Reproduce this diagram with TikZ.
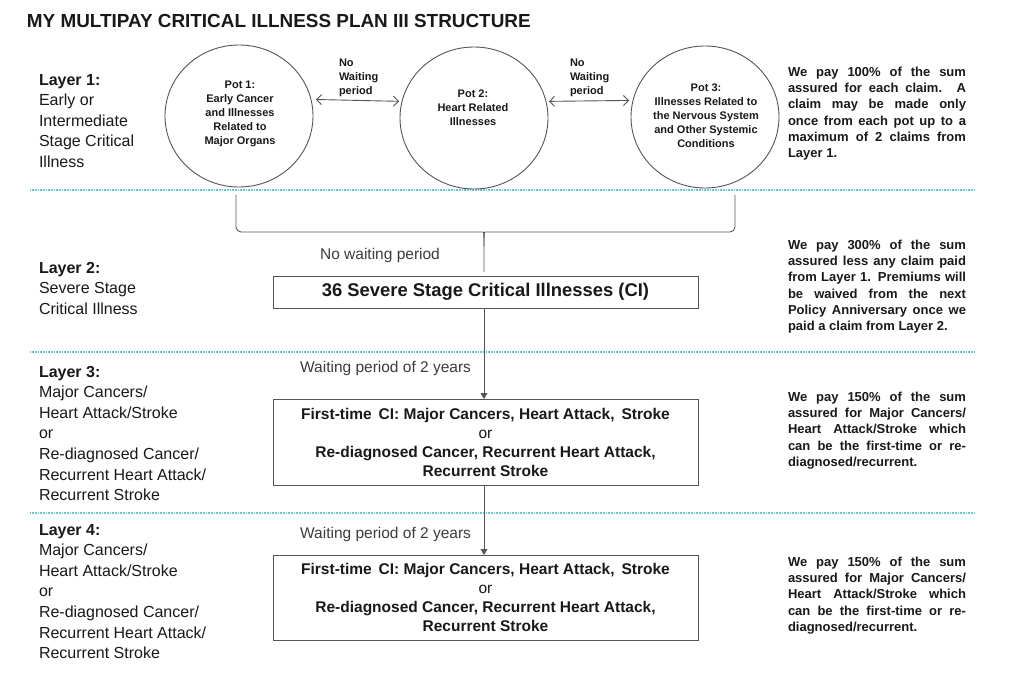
\documentclass[tikz,border=0pt]{standalone}
\usepackage{fontspec}
\setmainfont{Liberation Sans}
\usetikzlibrary{shapes.geometric,arrows.meta}
\definecolor{dotc}{RGB}{105,198,212}
\definecolor{linec}{RGB}{85,85,85}
\definecolor{txtc}{RGB}{25,25,25}
\definecolor{graytxt}{RGB}{60,60,60}
\newcommand{\jl}[1]{\makebox[178pt][s]{#1}}
\tikzset{
  x=1pt, y=-1pt,
  every node/.style={inner sep=0pt, outer sep=0pt, text=txtc},
  pot/.style={draw=linec, line width=0.9pt, ellipse, minimum width=148pt, minimum height=142pt},
  pottext/.style={align=center, font=\bfseries\fontsize{11}{14}\selectfont},
  nowait/.style={align=left, font=\bfseries\fontsize{11}{14}\selectfont, anchor=north west},
  layerlab/.style={align=left, anchor=north west, font=\fontsize{16}{20.6}\selectfont},
  righttext/.style={align=left, anchor=north west, font=\bfseries\fontsize{13}{16.2}\selectfont},
  cibox/.style={draw=linec, line width=0.9pt, minimum width=425pt, align=center},
  waitlab/.style={font=\fontsize{15.5}{18}\selectfont, text=graytxt},
  sep/.style={draw=dotc, line width=1.6pt, dash pattern=on 0.8pt off 0.8pt},
  conn/.style={draw=linec, line width=0.9pt},
  dbl/.style={conn, {Straight Barb[length=5pt,width=10pt]}-{Straight Barb[length=5pt,width=10pt]}},
  down/.style={conn, -{Triangle[length=6pt,width=7pt]}}
}
\begin{document}
\begin{tikzpicture}
\useasboundingbox (0,0) rectangle (1011,676);
\fill[white] (0,0) rectangle (1011,676);

% title
\node[anchor=west, font=\bfseries\fontsize{18.9}{22}\selectfont] (title) at (27,21) {MY MULTIPAY CRITICAL ILLNESS PLAN III STRUCTURE};

% separators
\draw[sep] (30,190) -- (975,190);
\draw[sep] (30,352) -- (975,352);
\draw[sep] (30,513) -- (975,513);

% layer labels
\node[layerlab] (l1) at (39,74) {\textbf{Layer 1:}\\Early or\\Intermediate\\Stage Critical\\Illness};
\node[layerlab] (l2) at (39,262) {\textbf{Layer 2:}\\Severe Stage\\Critical Illness};
\node[layerlab] (l3) at (39,366) {\textbf{Layer 3:}\\Major Cancers/\\Heart Attack/Stroke\\or\\Re-diagnosed Cancer/\\Recurrent Heart Attack/\\Recurrent Stroke};
\node[layerlab] (l4) at (39,524) {\textbf{Layer 4:}\\Major Cancers/\\Heart Attack/Stroke\\or\\Re-diagnosed Cancer/\\Recurrent Heart Attack/\\Recurrent Stroke};

% pots
\node[pot] (pot1) at (239,116) {};
\node[pot] (pot2) at (474,118) {};
\node[pot] (pot3) at (705,117) {};
\node[pottext] (t1) at (240,114) {Pot 1:\\Early Cancer\\and Illnesses\\Related to\\Major Organs};
\node[pottext] (t2) at (473,108) {Pot 2:\\Heart Related\\Illnesses};
\node[pottext] (t3) at (706,116) {Pot 3:\\Illnesses Related to\\the Nervous System\\and Other Systemic\\Conditions};

% no waiting labels
\node[nowait] (nw1) at (339,59) {No\\Waiting\\period};
\node[nowait] (nw2) at (570,59) {No\\Waiting\\period};
\draw[dbl, shorten <=5pt, shorten >=3pt] (pot1.13) -- (pot2.167);
\draw[dbl, shorten <=3pt, shorten >=4pt] (pot2.13) -- (pot3.167);

% brace
\coordinate (bl) at (236,195);
\coordinate (br) at (735,195);
\coordinate (bt) at (484,272);
\draw[conn, rounded corners=5pt] (bl) |- (478,232) .. controls (484,232) and (484,236) .. (484,246) -- (bt);
\draw[conn, rounded corners=5pt] (br) |- (490,232) .. controls (484,232) and (484,236) .. (484,246);
\node[waitlab] (nwp) at (380,255) {No waiting period};

% boxes
\node[cibox, minimum height=32pt, font=\bfseries\fontsize{18.4}{21}\selectfont] (b1) at (485.5,292) {36 Severe Stage Critical Illnesses (CI)};
\node[cibox, minimum height=86pt, font=\bfseries\fontsize{15.5}{19}\selectfont] (b2) at (485.5,442) {First-time\, CI: Major Cancers, Heart Attack,\, Stroke\\{\mdseries or}\\Re-diagnosed Cancer, Recurrent Heart Attack,\\Recurrent Stroke};
\node[cibox, minimum height=85pt, font=\bfseries\fontsize{15.5}{19}\selectfont] (b3) at (485.5,597.5) {First-time\, CI: Major Cancers, Heart Attack,\, Stroke\\{\mdseries or}\\Re-diagnosed Cancer, Recurrent Heart Attack,\\Recurrent Stroke};

\draw[down] (b1.south -| bt) -- (b2.north -| bt);
\draw[down] (b2.south -| bt) -- (b3.north -| bt);
\node[waitlab, anchor=east] (w1) at (471,368) {Waiting period of 2 years};
\node[waitlab, anchor=east] (w2) at (471,534) {Waiting period of 2 years};

% right texts
\node[righttext] (r1) at (788,67) {\jl{We pay 100\% of the sum}\\\jl{assured for each claim. A}\\\jl{claim may be made only}\\\jl{once from each pot up to a}\\\jl{maximum of 2 claims from}\\Layer 1.};
\node[righttext] (r2) at (788,240) {\jl{We pay 300\% of the sum}\\\jl{assured less any claim paid}\\\jl{from Layer 1. Premiums will}\\\jl{be waived from the next}\\\jl{Policy Anniversary once we}\\paid a claim from Layer 2.};
\node[righttext] (r3) at (788,392) {\jl{We pay 150\% of the sum}\\\jl{assured for Major Cancers/}\\\jl{Heart Attack/Stroke which}\\\jl{can be the first-time or re-}\\diagnosed/recurrent.};
\node[righttext] (r4) at (788,557) {\jl{We pay 150\% of the sum}\\\jl{assured for Major Cancers/}\\\jl{Heart Attack/Stroke which}\\\jl{can be the first-time or re-}\\diagnosed/recurrent.};
\end{tikzpicture}
\end{document}
